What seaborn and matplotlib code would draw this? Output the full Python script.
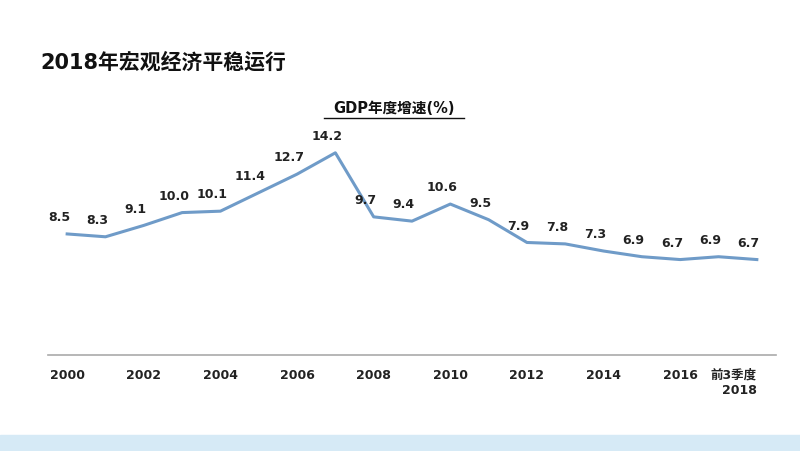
import matplotlib
matplotlib.use("Agg")
import matplotlib.pyplot as plt
from matplotlib import font_manager
import seaborn as sns
import pandas as pd

cjk = [f.name for f in font_manager.fontManager.ttflist if "CJK" in f.name]
plt.rcParams["font.family"] = ["DejaVu Sans"] + sorted(set(cjk), key=lambda n: ("SC" not in n, n))

# data
years = list(range(2000, 2019))
growth = [8.5, 8.3, 9.1, 10.0, 10.1, 11.4, 12.7, 14.2, 9.7, 9.4, 10.6, 9.5,
          7.9, 7.8, 7.3, 6.9, 6.7, 6.9, 6.7]
tick_years = [2000, 2002, 2004, 2006, 2008, 2010, 2012, 2014, 2016, 2018]
tick_labels = ["2000", "2002", "2004", "2006", "2008", "2010", "2012", "2014",
               "2016", "前3季度\n2018"]

df = pd.DataFrame({"year": years, "gdp": growth})

fig = plt.figure(figsize=(8, 4.51), dpi=100)
ax = fig.add_axes([0.06, 0.213, 0.91, 0.505])

sns.lineplot(data=df, x="year", y="gdp", ax=ax, color="#6F9BC8", linewidth=2.2)

for x, y in zip(years, growth):
    ax.annotate(f"{y:.1f}", (x, y), xytext=(-6, 7), textcoords="offset points",
                ha="center", va="bottom", fontsize=9, fontweight="bold", color="#222222")

ax.set_xlim(1999.5, 2018.5)
ax.set_ylim(0, 16)
ax.set_xticks(tick_years)
ax.set_xticklabels(tick_labels, fontsize=9, fontweight="bold", color="#222222")
for lbl in ax.get_xticklabels()[-1:]:
    lbl.set_horizontalalignment("right")
ax.tick_params(axis="x", length=0, pad=10)
ax.set_yticks([])
ax.set_xlabel("")
ax.set_ylabel("")
for side in ["top", "right", "left"]:
    ax.spines[side].set_visible(False)
ax.spines["bottom"].set_color("#AAAAAA")
ax.spines["bottom"].set_linewidth(1.2)

fig.text(0.05, 0.862, "2018年宏观经济平稳运行", fontsize=15, fontweight="bold",
         color="#111111", va="center")
fig.text(0.493, 0.76, "GDP年度增速(%)", fontsize=10.5, fontweight="bold",
         color="#111111", ha="center", va="center")
fig.add_artist(plt.Line2D([0.405, 0.58], [0.738, 0.738], color="#111111", linewidth=1))

# bottom decorative band
fig.add_artist(plt.Rectangle((0, 0), 1, 0.035, color="#D6EAF6", transform=fig.transFigure))

fig.savefig("out.png", dpi=100)
